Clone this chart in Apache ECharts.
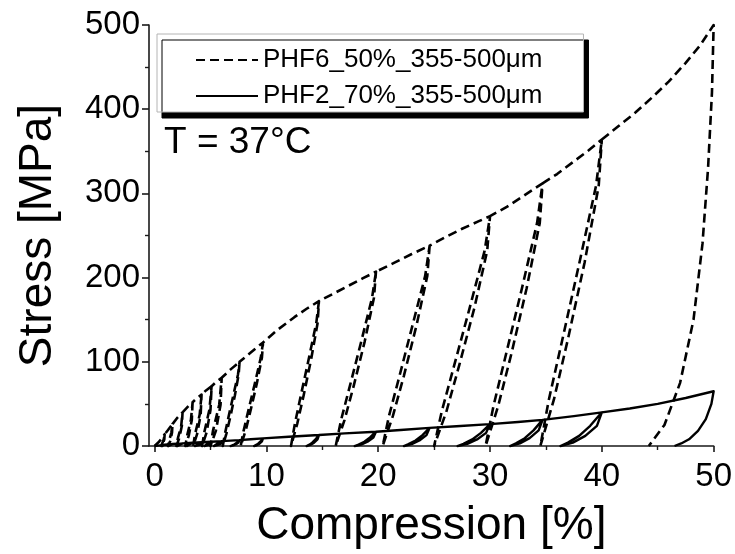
<!DOCTYPE html>
<html>
<head>
<meta charset="utf-8">
<title>Cyclic compression, PHF foams at 37 °C</title>
<script src="https://cdn.jsdelivr.net/npm/echarts@6/dist/echarts.min.js"></script>
<style>
  html, body { margin: 0; padding: 0; background: #fff; }
  #chart { width: 735px; height: 554px; }
</style>
</head>
<body>
<div id="chart"></div>
<script>
// Axis ticks
const xTickValues = [0, 10, 20, 30, 40, 50];
const xMinorTickValues = [5, 15, 25, 35, 45];
const yTickValues = [0, 100, 200, 300, 400, 500];

const seriesNames = ['PHF6_50%_355-500μm', 'PHF2_70%_355-500μm'];

// PHF6_50%: [strain %, stress MPa] in test order (load, unload, reload, ...)
const phf6Small = [
  [0, 0], [0.4, 5], [0.9, 14],
  [0.87, 8], [0.75, 3], [0.6, 0], [0.68, 3], [0.82, 8], [0.9, 14],
  [1.2, 19], [1.6, 26],
  [1.56, 16], [1.4, 6], [1.2, 0], [1.3, 6], [1.5, 16], [1.6, 26],
  [2.0, 33], [2.5, 40],
  [2.44, 24], [2.2, 9], [1.95, 0], [2.08, 9], [2.38, 24], [2.5, 40],
  [3.0, 47], [3.4, 52],
  [3.33, 31], [3.05, 12], [2.75, 0], [2.9, 12], [3.25, 31], [3.4, 52],
  [3.8, 57], [4.2, 61],
  [4.12, 37], [3.8, 14], [3.45, 0], [3.62, 14], [4.03, 37], [4.2, 61],
  [4.6, 66], [5.1, 71],
  [5.0, 43], [4.65, 16], [4.25, 0], [4.44, 16], [4.9, 43], [5.1, 71],
  [5.5, 76], [6.0, 81],
  [5.9, 49], [5.48, 18], [5.0, 0], [5.22, 18], [5.78, 49], [6.0, 81],
  [6.8, 91], [7.6, 100],
  [7.52, 85], [7.18, 60], [6.78, 35], [6.43, 15], [6.1, 0], [6.3, 15], [6.62, 35], [7.04, 60], [7.46, 85], [7.6, 100]
];
const phf6Mid = [
  [8.6, 111], [9.7, 123],
  [9.6, 105], [9.14, 74], [8.6, 43], [8.14, 18], [7.7, 0], [7.96, 18], [8.4, 43], [8.96, 74], [9.5, 105], [9.7, 123],
  [11, 138], [12.5, 153], [13.6, 163], [14.7, 172],
  [14.58, 146], [14.0, 103], [13.33, 60], [12.75, 26], [12.2, 0], [12.54, 26], [13.08, 60], [13.78, 103], [14.46, 146], [14.7, 172],
  [16, 181], [17.3, 190], [18.6, 199], [19.8, 207],
  [19.62, 176], [18.79, 124], [17.82, 72], [16.99, 31], [16.2, 0], [16.68, 31], [17.48, 72], [18.48, 124], [19.45, 176], [19.8, 207],
  [21.5, 218], [23, 228], [24.6, 238],
  [24.39, 202], [23.42, 143], [22.29, 83], [21.32, 36], [20.4, 0], [20.97, 36], [21.9, 83], [23.06, 143], [24.2, 202], [24.6, 238]
];
const phf6High = [
  [26, 248], [27.5, 258], [29, 267], [30, 273],
  [29.75, 232], [28.6, 164], [27.25, 96], [26.1, 41], [25.0, 0], [25.68, 41], [26.8, 96], [28.18, 164], [29.52, 232], [30, 273],
  [31.5, 284], [33, 297], [34.7, 312],
  [34.45, 265], [33.27, 187], [31.9, 109], [30.72, 47], [29.6, 0], [30.3, 47], [31.43, 109], [32.85, 187], [34.21, 265], [34.7, 312],
  [36, 323], [37.5, 338], [38.8, 351], [40, 364],
  [39.72, 309], [38.46, 218], [36.97, 127], [35.71, 55], [34.5, 0], [35.26, 55], [36.48, 127], [38.0, 218], [39.48, 309], [40, 364],
  [41.5, 380], [43, 396], [44.5, 414], [46, 433], [47.5, 455], [48.8, 476], [50, 500],
  [49.85, 420], [49.5, 330], [49.0, 240], [48.2, 150], [47.0, 75], [45.6, 25], [44.2, 0]
];

// PHF2_70%: [strain %, stress MPa] in test order
const phf2Small = [
  [0, 0], [0.5, 0.8], [0.9, 1.5],
  [0.85, 0.6], [0.7, 0], [0.8, 0.8], [0.9, 1.5],
  [1.6, 2.3],
  [1.55, 1], [1.25, 0], [1.4, 1.1], [1.6, 2.3],
  [2.5, 3.1],
  [2.44, 1.3], [2.05, 0], [2.24, 1.4], [2.5, 3.1],
  [3.4, 3.8],
  [3.33, 1.6], [2.9, 0], [3.12, 1.7], [3.4, 3.8],
  [4.2, 4.4],
  [4.12, 1.8], [3.6, 0], [3.86, 2], [4.2, 4.4],
  [5.1, 5.1],
  [5.0, 2.1], [4.45, 0], [4.74, 2.3], [5.1, 5.1],
  [6.0, 5.8],
  [5.9, 2.4], [5.3, 0], [5.6, 2.6], [6.0, 5.8],
  [6.8, 6.4], [7.6, 7],
  [7.5, 4.2], [7.28, 2.1], [7.04, 0.7], [6.8, 0], [6.94, 0.7], [7.16, 2.1], [7.38, 4.2], [7.6, 7]
];
const phf2Mid = [
  [8.6, 8], [9.7, 9],
  [9.6, 5.4], [9.38, 2.7], [9.14, 0.9], [8.9, 0], [9.04, 0.9], [9.26, 2.7], [9.48, 5.4], [9.7, 9],
  [12, 11], [14.7, 13],
  [14.57, 7.8], [14.26, 3.9], [13.93, 1.3], [13.6, 0], [13.8, 1.3], [14.1, 3.9], [14.39, 7.8], [14.7, 13],
  [17, 15], [19.8, 17],
  [19.57, 10.2], [19.04, 5.1], [18.47, 1.7], [17.9, 0], [18.24, 1.7], [18.76, 5.1], [19.27, 10.2], [19.8, 17],
  [22, 19], [24.6, 21.5],
  [24.32, 12.9], [23.68, 6.5], [22.99, 2.2], [22.3, 0], [22.71, 2.2], [23.34, 6.5], [23.96, 12.9], [24.6, 21.5]
];
const phf2High = [
  [27, 23.5], [30, 26],
  [29.65, 15.6], [28.84, 7.8], [27.97, 2.6], [27.1, 0], [27.62, 2.6], [28.41, 7.8], [29.19, 15.6], [30, 26],
  [32.5, 28.5], [34.7, 31],
  [34.35, 18.6], [33.54, 9.3], [32.67, 3.1], [31.8, 0], [32.32, 3.1], [33.11, 9.3], [33.89, 18.6], [34.7, 31],
  [37.5, 35.5], [40, 40],
  [39.56, 24], [38.52, 12], [37.41, 4], [36.3, 0], [36.97, 4], [37.97, 12], [38.96, 24], [40, 40],
  [42.5, 44.5], [45, 50], [47.5, 57], [50, 65],
  [49.8, 50], [49.3, 32], [48.6, 18], [47.8, 8], [47.1, 3], [46.5, 0]
];

const FONT = '"Liberation Sans", Arial, Helvetica, sans-serif';
const INK = '#000';
const AXIS = '#1a1a1a';

const chart = echarts.init(document.getElementById('chart'), null, { renderer: 'canvas' });

chart.setOption({
  animation: false,
  backgroundColor: '#fff',
  grid: { left: 149, right: 18, top: 25, bottom: 97, containLabel: false },
  legend: {
    orient: 'vertical',
    left: 157,
    top: 34,
    padding: [13, 41, 3, 38],
    itemGap: 10,
    itemWidth: 62,
    itemHeight: 20,
    backgroundColor: '#fff',
    borderColor: '#b4b4b4',
    borderWidth: 1,
    shadowColor: '#000',
    shadowBlur: 0,
    shadowOffsetX: 5,
    shadowOffsetY: 6,
    // hide the marker that line series add to their legend icon
    itemStyle: { color: 'rgba(0,0,0,0)', borderColor: 'rgba(0,0,0,0)', borderWidth: 0 },
    textStyle: { fontFamily: FONT, fontSize: 26, lineHeight: 20, color: INK },
    data: seriesNames
  },
  xAxis: [{
    type: 'value',
    min: -0.5,
    max: 50,
    name: 'Compression [%]',
    nameLocation: 'middle',
    nameGap: 57,
    nameTextStyle: { fontFamily: FONT, fontSize: 46, color: INK },
    axisLine: { show: true, onZero: false, lineStyle: { color: AXIS, width: 1.6 } },
    axisTick: { show: true, inside: false, length: 6, customValues: xTickValues, lineStyle: { color: AXIS, width: 1.6 } },
    axisLabel: { customValues: xTickValues, fontFamily: FONT, fontSize: 33, color: INK, margin: 14 },
    splitLine: { show: false }
  }, {
    type: 'value',
    min: -0.5,
    max: 50,
    position: 'bottom',
    axisLine: { show: false },
    axisTick: { show: true, inside: false, length: 4, customValues: xMinorTickValues, lineStyle: { color: AXIS, width: 1.4 } },
    axisLabel: { show: false },
    splitLine: { show: false }
  }],
  yAxis: {
    type: 'value',
    min: 0,
    max: 500,
    interval: 100,
    name: 'Stress [MPa]',
    nameLocation: 'middle',
    nameGap: 88,
    nameTextStyle: { fontFamily: FONT, fontSize: 46, color: INK },
    axisLine: { show: true, onZero: false, lineStyle: { color: AXIS, width: 1.6 } },
    axisTick: { show: true, inside: false, length: 7, lineStyle: { color: AXIS, width: 1.6 } },
    minorTick: { show: true, splitNumber: 2, length: 4, lineStyle: { color: AXIS, width: 1.4 } },
    axisLabel: { customValues: yTickValues, fontFamily: FONT, fontSize: 33, color: INK, margin: 9 },
    splitLine: { show: false },
    minorSplitLine: { show: false }
  },
  graphic: [{
    type: 'text',
    left: 164,
    top: 124,
    style: { text: 'T = 37°C', font: '37px ' + FONT, fill: INK }
  }],
  series: [{
    name: seriesNames[0],
    type: 'line',
    data: phf6Small.concat(phf6Mid, phf6High),
    showSymbol: false,
    symbol: 'none',
    clip: false,
    lineStyle: { color: INK, width: 2.6, type: [9, 5], join: 'round' },
    itemStyle: { color: INK },
    z: 3
  }, {
    name: seriesNames[1],
    type: 'line',
    data: phf2Small.concat(phf2Mid, phf2High),
    showSymbol: false,
    symbol: 'none',
    clip: false,
    lineStyle: { color: INK, width: 2.4, type: 'solid', join: 'round' },
    itemStyle: { color: INK },
    z: 4
  }]
});
</script>
</body>
</html>
